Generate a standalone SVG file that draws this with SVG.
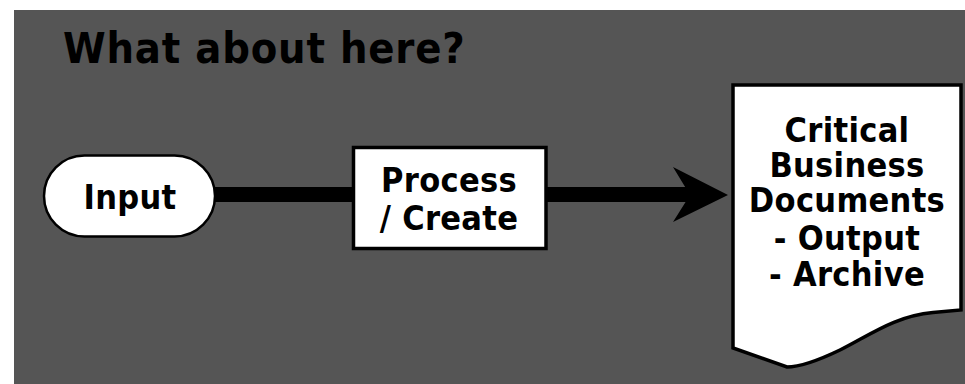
<svg xmlns="http://www.w3.org/2000/svg" width="965" height="384" viewBox="0 0 965 384">
  <style>
    .lbl { font-family: "DejaVu Sans Condensed", "DejaVu Sans", Verdana, sans-serif; font-stretch: condensed; font-weight: bold; font-size: 34px; letter-spacing: 0.3px; fill: #000; text-anchor: middle; }
    .title { font-family: "DejaVu Sans Condensed", "DejaVu Sans", Verdana, sans-serif; font-stretch: condensed; font-weight: bold; font-size: 43px; letter-spacing: 0.8px; fill: #000; }
    .shape { fill: #fff; stroke: #000; }
  </style>
  <rect x="0" y="0" width="965" height="384" fill="#ffffff"/>
  <rect x="14" y="10" width="951" height="374" fill="#555555"/>
  <text class="title" x="63" y="63">What about here?</text>

  <g id="connectors">
    <line id="c-input-process" x1="214" y1="194.5" x2="354" y2="194.5" stroke="#000" stroke-width="15"/>
    <g id="c-process-docs">
      <line x1="546" y1="194.5" x2="692" y2="194.5" stroke="#000" stroke-width="15"/>
      <polygon points="673,167 728,195 673,222 690,195" fill="#000"/>
    </g>
  </g>

  <g id="node-input">
    <rect class="shape" x="44" y="155.5" width="171" height="81" rx="40.5" ry="40.5" stroke-width="2.5"/>
    <text class="lbl" x="130" y="209">Input</text>
  </g>

  <g id="node-process">
    <rect class="shape" x="353.5" y="147.5" width="192.5" height="101" stroke-width="3.5"/>
    <text class="lbl" x="449" y="192">Process</text>
    <text class="lbl" x="449" y="230">/ Create</text>
  </g>

  <g id="node-documents">
    <path class="shape" stroke-width="3.5" d="M733,85 H961 V310 L933,312.5 C895,316 870,335 840,350 C815,362 800,367 787,367 L733,348 Z"/>
    <text class="lbl" x="847" y="142">Critical</text>
    <text class="lbl" x="847" y="177">Business</text>
    <text class="lbl" x="847" y="212">Documents</text>
    <text class="lbl" x="847" y="250">- Output</text>
    <text class="lbl" x="847" y="286">- Archive</text>
  </g>
</svg>
